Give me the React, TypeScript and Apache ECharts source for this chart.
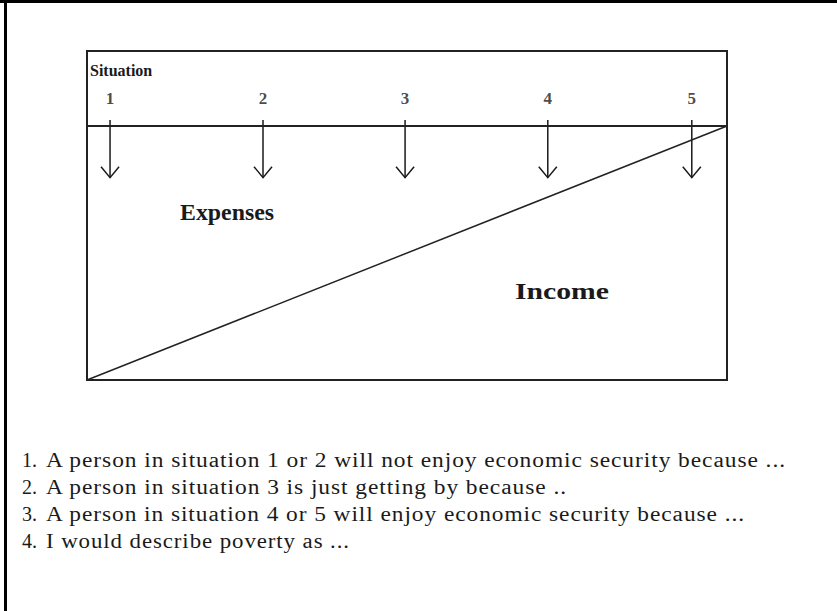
import React, { useEffect, useRef } from "react";
import * as echarts from "echarts";

// Situation markers along the top of the box (x in % of box width)
const situations = ["1", "2", "3", "4", "5"];
const situationX = [3.6, 27.5, 49.7, 72.0, 94.5];
// Vertical scale: 0 = bottom of box, 100 = top of box
const topLineY = 77.2;
const arrowStartY = 79;
const arrowTipY = 61.5;
const labelY = 85.7;
const incomeLine = [
  [0, 0],
  [100, 77.2],
];
const questionNumbers = ["1.", "2.", "3.", "4."];
const questions = [
  "A person in situation 1 or 2 will not enjoy economic security because ...",
  "A person in situation 3 is just getting by because ..",
  "A person in situation 4 or 5 will enjoy economic security because ...",
  "I would describe poverty as ...",
];

// layout: rendered widths of the wide-set texts (px)
const textWidths: Record<string, number> = {
  [questions[0]]: 740,
  [questions[1]]: 521,
  [questions[2]]: 699,
  [questions[3]]: 304,
  Expenses: 94,
  Income: 94,
};

const INK = "#1a1a1a";
const boxFont = "'Liberation Serif', serif";
const listFont = "'Liberation Serif', serif";

export default function App() {
  const ref = useRef<HTMLDivElement>(null);
  useEffect(() => {
    if (!ref.current) return;
    const el = ref.current;
    const chart = echarts.init(el, undefined, { renderer: "svg" });
    const listGraphics: any[] = [];
    questions.forEach((q, i) => {
      listGraphics.push({
        type: "text",
        left: 22,
        top: 450 + i * 27,
        style: { text: questionNumbers[i], font: `20px ${listFont}`, fill: INK },
      });
      listGraphics.push({
        type: "text",
        left: 46,
        top: 450 + i * 27,
        style: { text: q, font: `20px ${listFont}`, fill: INK },
      });
    });
    chart.setOption({
      animation: false,
      backgroundColor: "#fff",
      grid: {
        left: 87,
        top: 51,
        width: 640,
        height: 329,
        show: true,
        borderColor: "#222",
        borderWidth: 2,
        backgroundColor: "transparent",
      },
      xAxis: { type: "value", min: 0, max: 100, show: false },
      yAxis: { type: "value", min: 0, max: 100, show: false },
      graphic: [
        { type: "rect", shape: { x: 0, y: 0, width: 837, height: 3 }, style: { fill: "#000" } },
        { type: "rect", shape: { x: 4, y: 0, width: 3, height: 611 }, style: { fill: "#000" } },
        {
          type: "text",
          left: 90,
          top: 62,
          style: { text: "Situation", font: `bold 16px ${boxFont}`, fill: INK },
        },
        {
          type: "text",
          left: 180,
          top: 200,
          style: { text: "Expenses", font: `bold 24px ${boxFont}`, fill: INK },
        },
        {
          type: "text",
          left: 515,
          top: 279,
          style: { text: "Income", font: `bold 24px ${boxFont}`, fill: INK },
        },
        ...listGraphics,
      ],
      series: [
        {
          type: "line",
          data: [
            [0, topLineY],
            [100, topLineY],
          ],
          symbol: "none",
          lineStyle: { color: "#222", width: 2 },
          silent: true,
        },
        {
          type: "line",
          data: incomeLine,
          symbol: "none",
          lineStyle: { color: "#222", width: 1.5 },
          silent: true,
        },
        {
          type: "custom",
          data: situationX.map((x) => [x, arrowTipY]),
          renderItem: (_params: any, api: any) => {
            const x = api.value(0);
            const top = api.coord([x, arrowStartY]);
            const tip = api.coord([x, api.value(1)]);
            return {
              type: "group",
              children: [
                {
                  type: "line",
                  shape: { x1: top[0], y1: top[1], x2: tip[0], y2: tip[1] },
                  style: { stroke: INK, lineWidth: 1.5 },
                },
                {
                  type: "polyline",
                  shape: {
                    points: [
                      [tip[0] - 9, tip[1] - 11],
                      [tip[0], tip[1]],
                      [tip[0] + 9, tip[1] - 11],
                    ],
                  },
                  style: { stroke: INK, fill: "none", lineWidth: 1.5 },
                },
              ],
            };
          },
        },
        {
          type: "scatter",
          data: situationX.map((x) => [x, labelY]),
          symbolSize: 0,
          label: {
            show: true,
            position: "inside",
            formatter: (p: any) => situations[p.dataIndex],
            fontFamily: boxFont,
            fontWeight: "bold",
            fontSize: 17,
            color: INK,
          },
        },
      ],
    });
    const widen = () => {
      el.querySelectorAll("svg text").forEach((t) => {
        const key = (t.textContent || "").trim();
        const w = textWidths[key];
        if (w) {
          if (questions.includes(key)) t.setAttribute("letter-spacing", "0.8");
          t.setAttribute("textLength", String(w));
          t.setAttribute("lengthAdjust", "spacingAndGlyphs");
        }
      });
    };
    widen();
    chart.on("finished", widen);
    const timer = setTimeout(widen, 50);
    return () => {
      clearTimeout(timer);
      chart.dispose();
    };
  }, []);
  return (
    <div
      ref={ref}
      style={{ position: "absolute", left: 0, top: 0, width: 837, height: 611 }}
    />
  );
}
